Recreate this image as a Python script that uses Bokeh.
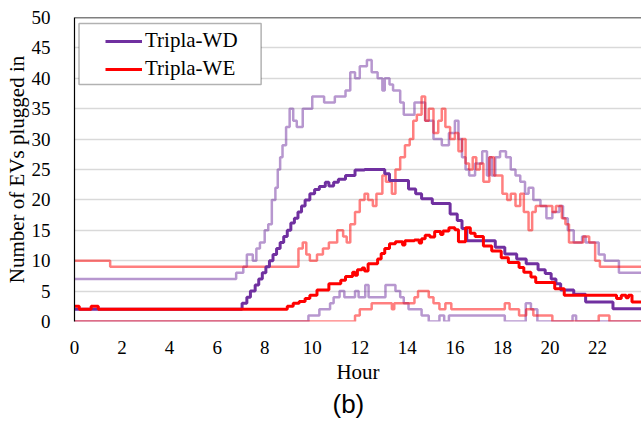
from bokeh.plotting import figure
from bokeh.models import (Range1d, Legend, LegendItem, Span, BoxAnnotation,
                          FixedTicker, Title)
from bokeh.embed import file_html
from bokeh.resources import INLINE

# ---------------- data (hour, number of EVs plugged in) ----------------
x_ticks = [0, 2, 4, 6, 8, 10, 12, 14, 16, 18, 20, 22]
y_ticks = [0, 5, 10, 15, 20, 25, 30, 35, 40, 45, 50]

wd_max = [(0, 7), (6.8, 8), (7.1, 9), (7.25, 11), (7.5, 10), (7.65, 12), (7.8, 13),
          (8.0, 15), (8.15, 16), (8.3, 20), (8.45, 22), (8.55, 25), (8.65, 27),
          (8.75, 29), (8.9, 32), (9.05, 35), (9.2, 33), (9.35, 32), (9.6, 35),
          (10.0, 37), (10.5, 36), (10.95, 37), (11.4, 38), (11.6, 41), (11.8, 40),
          (12.0, 42), (12.3, 43), (12.5, 41), (12.75, 40), (12.95, 38), (13.05, 40),
          (13.25, 39), (13.4, 38), (13.7, 36), (13.85, 34), (14.3, 36), (14.75, 33),
          (15.1, 30), (15.45, 29), (15.75, 31), (16.0, 33), (16.15, 30), (16.3, 27),
          (16.45, 25), (16.6, 24), (16.85, 26), (17.15, 28), (17.35, 24), (17.45, 27),
          (17.55, 24), (17.7, 27), (17.9, 28), (18.15, 27), (18.35, 25), (18.55, 24),
          (18.75, 23), (18.95, 21), (19.1, 22), (19.3, 20), (19.6, 19), (19.85, 17),
          (20.1, 18), (20.4, 19), (20.55, 17), (20.75, 15), (21.0, 13), (21.35, 14),
          (21.5, 13), (22.05, 11), (22.3, 10), (22.9, 8), (24, 8)]

wd_min = [(0, 0), (9.84, 1), (10.3, 2), (10.75, 3), (10.9, 4), (11.15, 5), (11.35, 4),
          (11.8, 5), (11.95, 4), (12.23, 6), (12.37, 4), (13.08, 6), (13.5, 5),
          (13.7, 4), (13.85, 3), (14.05, 2), (14.6, 1), (14.9, 0), (15.35, 1),
          (15.55, 0), (15.75, 1), (18.1, 0), (18.98, 3), (19.2, 2), (19.47, 0),
          (20.95, 1), (21.1, 0), (24, 0)]

wd_mean = [(0, 2), (7.05, 3), (7.25, 4), (7.4, 5), (7.6, 6), (7.75, 7), (7.9, 8),
           (8.05, 9), (8.2, 10), (8.35, 11), (8.5, 12), (8.65, 13), (8.8, 14),
           (8.95, 15), (9.1, 16.2), (9.25, 17), (9.4, 18), (9.55, 19), (9.7, 20),
           (9.9, 21), (10.1, 21.7), (10.3, 22.2), (10.55, 22.9), (10.7, 22.3),
           (10.9, 22.9), (11.1, 23.4), (11.4, 24), (11.8, 24.9), (12.2, 25),
           (13.05, 24.3), (13.25, 23.2), (14.05, 21.8), (14.35, 21), (14.6, 20.2),
           (15.05, 19.4), (15.8, 17.7), (16.1, 16.6), (16.3, 15.3), (16.5, 13.3),
           (17.7, 12.2), (18.1, 11.1), (18.6, 10.3), (19.0, 9.5), (19.5, 8.5),
           (19.8, 7.9), (20.05, 7.0), (20.25, 6.2), (20.45, 5.2), (21.0, 4.5),
           (21.5, 3.2), (22.65, 2.1), (24, 2.1)]

we_max = [(0, 10), (1.5, 9), (9.42, 12), (9.6, 13), (9.75, 11), (9.9, 10), (10.2, 11),
          (10.45, 12), (10.7, 13), (11.05, 15), (11.3, 14), (11.45, 13), (11.6, 16),
          (11.8, 18), (12.0, 20), (12.2, 21), (12.35, 20), (12.55, 19), (12.7, 21),
          (12.95, 24), (13.1, 23), (13.35, 21), (13.5, 25), (13.7, 27), (13.9, 29),
          (14.1, 30), (14.25, 33), (14.4, 34), (14.6, 37), (14.75, 33), (14.9, 35),
          (15.1, 31), (15.3, 33), (15.45, 35), (15.6, 32), (15.8, 30), (16.0, 31),
          (16.15, 28), (16.3, 30), (16.45, 26), (16.6, 25), (16.75, 27), (16.9, 25),
          (17.05, 26), (17.2, 23), (17.45, 27), (17.65, 24), (18.0, 21), (18.2, 20),
          (18.35, 21), (18.55, 19), (18.75, 21), (18.9, 18), (19.1, 15), (19.25, 18),
          (19.4, 19), (20.1, 18), (20.25, 19), (20.5, 17), (20.65, 16), (20.8, 13),
          (21.4, 14), (21.65, 13), (21.9, 10), (22.1, 9), (24, 9)]

we_min = [(0, 0), (11.8, 1), (12.0, 2), (12.5, 3), (13.35, 2), (13.45, 3), (14.3, 4),
          (14.45, 5), (14.9, 4), (15.1, 3), (15.35, 2), (15.6, 3), (15.85, 2),
          (18.1, 3), (18.3, 2), (18.7, 1), (19.0, 2), (19.3, 1), (20.1, 0),
          (22.05, 1), (22.5, 0), (24, 0)]

we_mean = [(0, 2.5), (0.2, 2), (0.7, 2.5), (1.0, 2), (8.95, 2.5), (9.2, 3), (9.45, 3.3),
           (9.7, 3.8), (9.9, 4.3), (10.2, 5.2), (10.7, 6.2), (11.2, 6.8), (11.4, 7.4),
           (11.7, 8.1), (11.8, 7.6), (11.9, 8.5), (12.1, 8.8), (12.2, 8.3), (12.35, 9.5),
           (12.75, 10.3), (12.9, 11.2), (13.05, 12.0), (13.25, 12.8), (13.5, 13.1),
           (13.8, 12.6), (13.9, 13.3), (14.3, 13.4), (14.5, 12.9), (14.6, 13.6),
           (14.75, 14.2), (14.95, 13.9), (15.15, 14.8), (15.4, 14.3), (15.5, 14.9),
           (15.75, 15.4), (16.0, 15.1), (16.15, 13.1), (16.45, 15.4), (16.65, 14.5),
           (16.85, 14.0), (17.2, 12.4), (17.55, 11.6), (17.95, 10.5), (18.25, 9.7),
           (18.7, 8.9), (18.9, 8.1), (19.2, 7.3), (19.4, 6.4), (20.2, 5.4), (20.6, 4.3),
           (22.8, 3.8), (23.0, 4.3), (23.2, 3.9), (23.3, 4.3), (23.45, 3.2), (24, 3.2)]

labels = ["Tripla-WD", "Tripla-WE"]

# ---------------- figure ----------------
SERIF = "'Liberation Serif', 'Times New Roman', serif"
SANS = "'Liberation Sans', Arial, sans-serif"
PURPLE = "#7030A0"
RED = "#FF0000"

p = figure(width=641, height=421, x_range=Range1d(0, 23.85), y_range=Range1d(0, 50),
           output_backend="svg", toolbar_location=None,
           min_border_left=74, min_border_right=0, min_border_top=17,
           min_border_bottom=100)
p.outline_line_color = None
p.background_fill_color = "white"
p.border_fill_color = "white"


def xs(series):
    return [a for a, _ in series]


def ys(series):
    return [b for _, b in series]


p.step(xs(wd_max), ys(wd_max), mode="after", line_color=PURPLE, line_alpha=0.5, line_width=2.5)
p.step(xs(wd_min), ys(wd_min), mode="after", line_color=PURPLE, line_alpha=0.5, line_width=2.5)
p.step(xs(we_max), ys(we_max), mode="after", line_color=RED, line_alpha=0.5, line_width=2.5)
p.step(xs(we_min), ys(we_min), mode="after", line_color=RED, line_alpha=0.5, line_width=2.5)
r_wd = p.step(xs(wd_mean), ys(wd_mean), mode="after", line_color=PURPLE, line_width=3)
r_we = p.step(xs(we_mean), ys(we_mean), mode="after", line_color=RED, line_width=3)

# axes
p.xaxis.ticker = FixedTicker(ticks=x_ticks)
p.yaxis.ticker = FixedTicker(ticks=y_ticks)
p.xgrid.visible = False
p.ygrid.grid_line_color = "#D9D9D9"
p.ygrid.grid_line_width = 1.5

for ax in (p.xaxis[0], p.yaxis[0]):
    ax.major_tick_line_color = None
    ax.minor_tick_line_color = None
    ax.major_label_text_font = SERIF
    ax.major_label_text_color = "black"
    ax.axis_label_text_font = SERIF
    ax.axis_label_text_font_style = "normal"
    ax.axis_label_text_color = "black"

p.xaxis.axis_line_color = None
p.xaxis.major_label_text_font_size = "19px"
p.xaxis.major_label_standoff = 13
p.xaxis.axis_label = "Hour"
p.xaxis.axis_label_text_font_size = "21px"
p.xaxis.axis_label_standoff = 3

p.yaxis.axis_line_color = "black"
p.yaxis.axis_line_width = 1.2
p.yaxis.major_label_text_font_size = "19px"
p.yaxis.major_label_standoff = 18
p.yaxis.axis_label = "Number of EVs plugged in"
p.yaxis.axis_label_text_font_size = "21px"
p.yaxis.axis_label_standoff = 0

# top frame line
p.add_layout(Span(location=50, dimension="width", line_color="black", line_width=1.5))

# legend box and legend
p.add_layout(BoxAnnotation(left=0.19, right=7.85, top=49.0, bottom=39.0,
                           fill_color="white", fill_alpha=1.0,
                           line_color="black", line_width=1.5))
legend = Legend(items=[LegendItem(label=labels[0], renderers=[r_wd]),
                       LegendItem(label=labels[1], renderers=[r_we])],
                location=(31, 240), padding=0, margin=0, spacing=3,
                label_height=22, glyph_height=22, glyph_width=37, label_standoff=3,
                label_text_font=SERIF, label_text_font_size="21px",
                label_text_color="black",
                border_line_color=None, background_fill_alpha=0)
p.add_layout(legend)

cap = Title(text="(b)", align="left", offset=258, text_font=SANS,
            text_font_size="26px", text_font_style="normal", text_color="black",
            standoff=0)
p.add_layout(cap, "below")

open("out.html", "w").write(file_html(p, INLINE))
